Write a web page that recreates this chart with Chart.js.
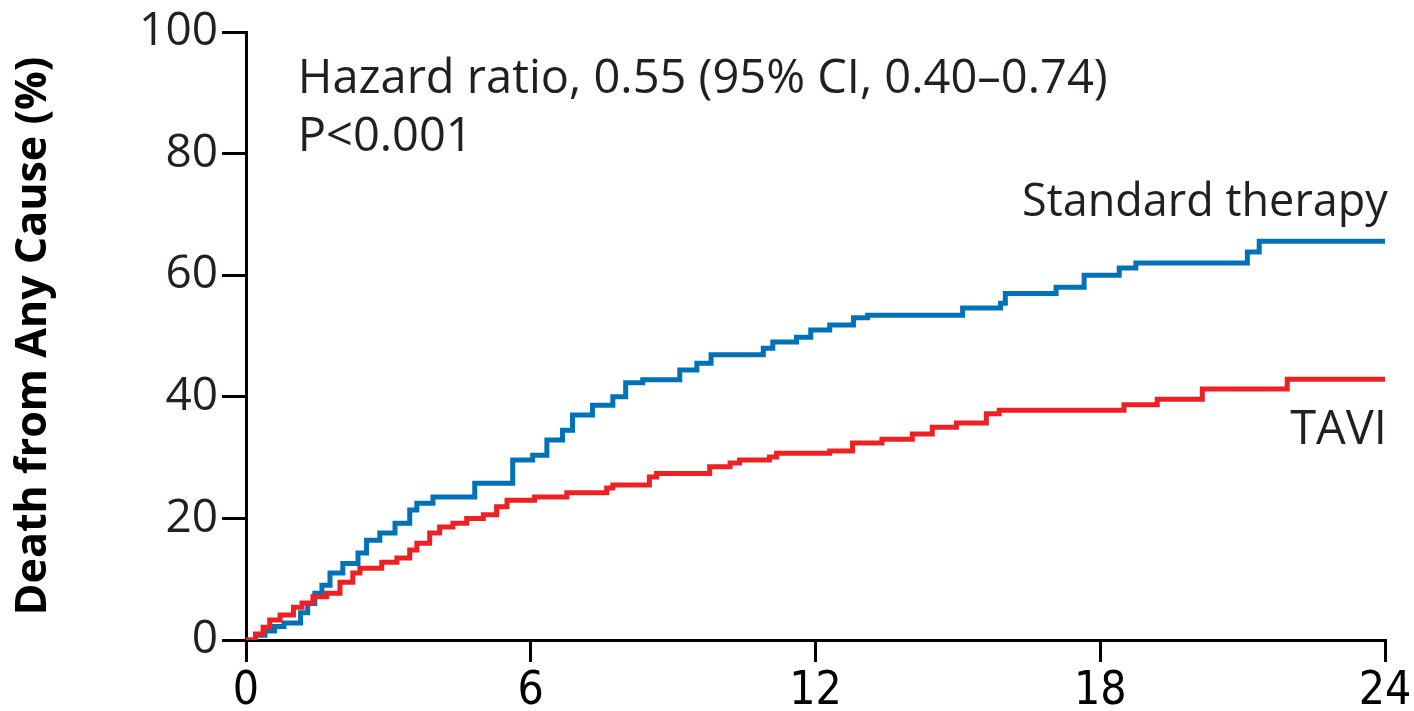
<!DOCTYPE html>
<html>
<head>
<meta charset="utf-8">
<script src="https://cdn.jsdelivr.net/npm/chart.js@4/dist/chart.umd.min.js"></script>
<style>
  html, body { margin: 0; padding: 0; background: #fff; }
  #wrap { width: 1414px; height: 711px; }
</style>
</head>
<body>
<div id="wrap"><canvas id="km"></canvas></div>
<script>
// months since randomization / cumulative death (%)
const stdTimes = [0, 0.2, 0.4, 0.6, 0.8, 1.15, 1.3, 1.45, 1.6, 1.77, 2.04, 2.36, 2.54, 2.82, 3.14, 3.45, 3.6, 3.94,
  4.82, 5.62, 6.04, 6.34, 6.67, 6.88, 7.3, 7.73, 8.0, 8.36, 9.14, 9.5, 9.8, 10.9, 11.1, 11.6, 11.9, 12.3, 12.8, 13.1,
  15.1, 15.9, 16.0, 17.07, 17.66, 18.4, 18.75, 21.1, 21.35, 24];
const stdDeath = [0, 0.8, 1.5, 2.2, 2.8, 4.5, 6, 7.7, 9, 11, 12.6, 14.3, 16.4, 17.6, 19.2, 21.4, 22.5, 23.5,
  25.8, 29.6, 30.4, 32.9, 34.5, 37, 38.6, 40, 42.3, 42.8, 44.4, 45.5, 46.9, 48, 49, 49.8, 51, 51.8, 53, 53.4,
  54.6, 55.4, 57, 58, 60, 61.2, 62, 63.8, 65.6, 65.6];

const taviTimes = [0, 0.2, 0.36, 0.5, 0.72, 1.0, 1.18, 1.41, 1.7, 1.98, 2.25, 2.4, 2.86, 3.18, 3.45, 3.6, 3.87, 4.08,
  4.36, 4.65, 5.0, 5.28, 5.5, 6.08, 6.76, 7.6, 7.73, 8.5, 8.65, 9.77, 10.2, 10.4, 11.03, 11.18, 12.3, 12.78, 13.4,
  14.04, 14.46, 14.97, 15.6, 15.87, 18.5, 19.2, 20.15, 21.94, 24];
const taviDeath = [0, 1, 2.1, 3.3, 4.1, 5.4, 6.1, 7.1, 7.7, 9.5, 11, 11.8, 12.8, 13.5, 14.8, 15.9, 17.6, 18.6,
  19.2, 20, 20.6, 21.9, 23, 23.5, 24.2, 25, 25.5, 26.8, 27.4, 28.5, 29.1, 29.6, 30.1, 30.7, 31.1, 32.4, 33,
  33.9, 35, 35.7, 37.2, 37.8, 38.7, 39.6, 41.3, 42.9, 42.9];

const xTicks = [0, 6, 12, 18, 24];
const yTicks = [0, 20, 40, 60, 80, 100];
const yTitle = 'Death from Any Cause (%)';
const hrText = ['Hazard ratio, 0.55 (95% CI, 0.40\u20130.74)', 'P<0.001'];
const seriesLabels = ['Standard therapy', 'TAVI'];

const BLUE = '#0072b5';
const RED = '#ed2024';
const textFont = '"Open Sans", "DejaVu Sans", sans-serif';

function toPoints(xs, ys) {
  return xs.map((x, i) => ({ x: x, y: ys[i] }));
}

// draws the hazard ratio note and the curve labels
const notesPlugin = {
  id: 'notes',
  afterDraw(chart) {
    const ctx = chart.ctx;
    const xs = chart.scales.x, ys = chart.scales.y;
    ctx.save();
    ctx.fillStyle = '#231f20';
    ctx.font = '47px ' + textFont;
    ctx.textBaseline = 'alphabetic';
    ctx.textAlign = 'left';
    ctx.fillText(hrText[0], xs.getPixelForValue(1.09), ys.getPixelForValue(90.0));
    ctx.fillText(hrText[1], xs.getPixelForValue(1.09), ys.getPixelForValue(80.4));
    ctx.textAlign = 'right';
    ctx.font = '45px ' + textFont;
    ctx.fillText(seriesLabels[0], xs.getPixelForValue(24.06), ys.getPixelForValue(69.7));
    ctx.font = '47px ' + textFont;
    ctx.fillText(seriesLabels[1], xs.getPixelForValue(24.04), ys.getPixelForValue(32.2));
    ctx.restore();
  }
};

new Chart(document.getElementById('km'), {
  type: 'line',
  data: {
    datasets: [
      {
        label: seriesLabels[1],
        data: toPoints(taviTimes, taviDeath),
        borderColor: RED,
        borderWidth: 5,
        stepped: true,
        pointRadius: 0,
        fill: false
      },
      {
        label: seriesLabels[0],
        data: toPoints(stdTimes, stdDeath),
        borderColor: BLUE,
        borderWidth: 5,
        stepped: true,
        pointRadius: 0,
        fill: false
      }
    ]
  },
  options: {
    responsive: true,
    maintainAspectRatio: false,
    animation: false,
    layout: { padding: { left: 0, right: 29, top: 32, bottom: 0 } },
    plugins: { legend: { display: false }, tooltip: { enabled: false } },
    scales: {
      x: {
        type: 'linear',
        min: 0,
        max: 24,
        afterBuildTicks: (s) => { s.ticks = xTicks.map(v => ({ value: v })); },
        afterFit: (s) => { s.height = 71; },
        border: { color: '#000', width: 3 },
        grid: { drawOnChartArea: false, color: '#000', lineWidth: 3, tickLength: 22 },
        ticks: {
          color: '#000',
          padding: 2,
          maxRotation: 0,
          font: { family: '"Liberation Sans Narrow", "DejaVu Sans Condensed", sans-serif', size: 46 }
        }
      },
      y: {
        min: 0,
        max: 100,
        afterBuildTicks: (s) => { s.ticks = yTicks.map(v => ({ value: v })); },
        afterFit: (s) => { s.width = 246; },
        border: { color: '#000', width: 3 },
        grid: { drawOnChartArea: false, color: '#000', lineWidth: 3, tickLength: 24 },
        title: {
          display: true,
          text: yTitle,
          color: '#000',
          padding: { top: 8, bottom: 50 },
          font: { family: textFont, size: 43, weight: 'bold' }
        },
        ticks: {
          color: '#231f20',
          padding: 4,
          font: { family: textFont, size: 46 }
        }
      }
    }
  },
  plugins: [notesPlugin]
});
</script>
</body>
</html>
